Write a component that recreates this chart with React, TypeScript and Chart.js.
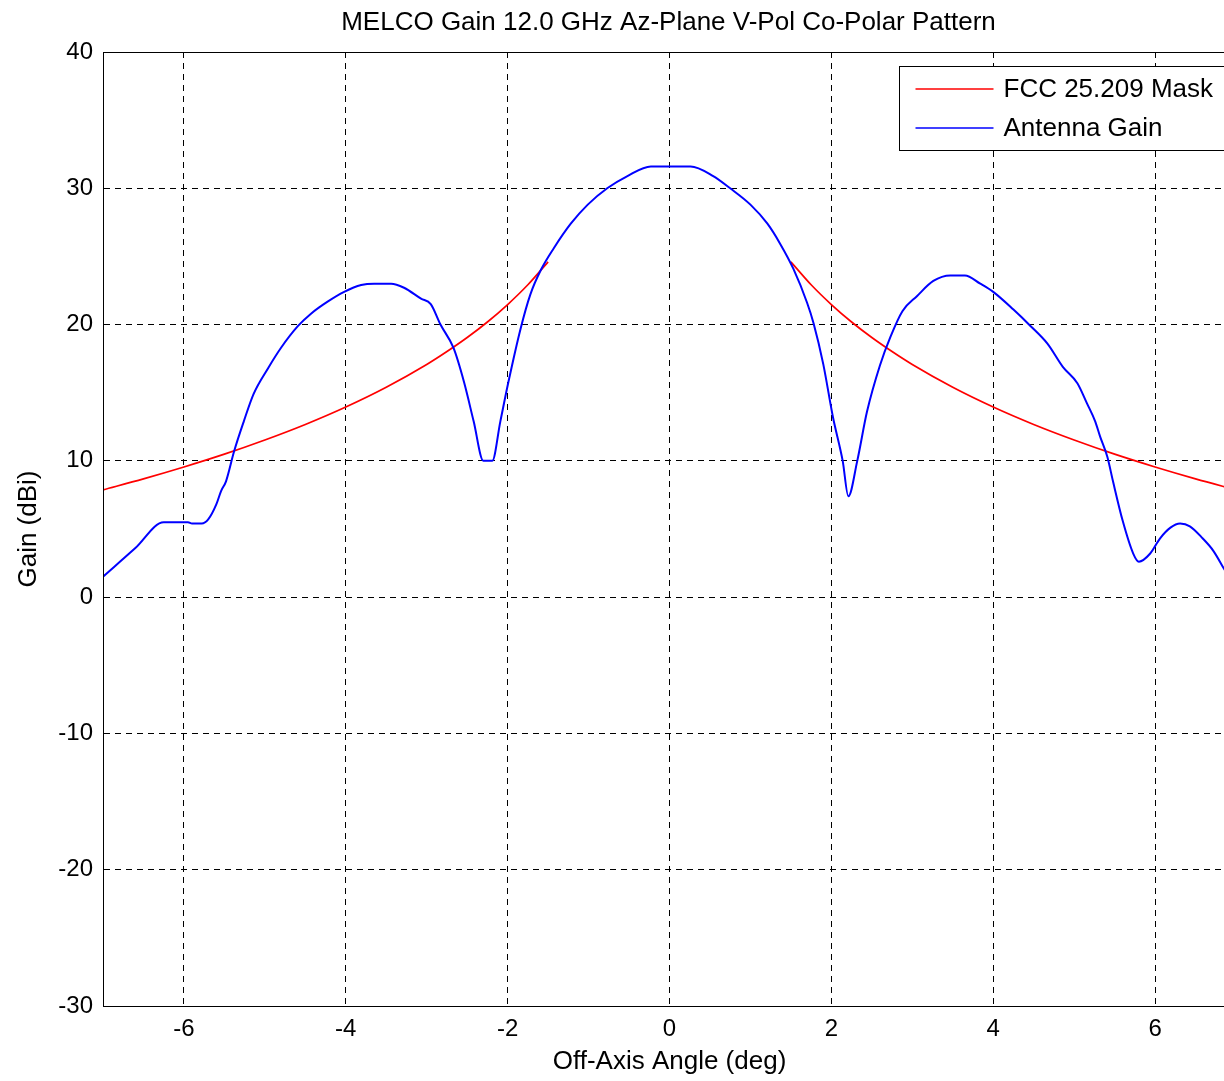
import React, { useEffect, useRef } from "react";
import { Chart, registerables } from "chart.js";

Chart.register(...registerables);

// ---- Data ----
const titleText = "MELCO Gain 12.0 GHz Az-Plane V-Pol Co-Polar Pattern";
const xAxisTitle = "Off-Axis Angle (deg)";
const yAxisTitle = "Gain (dBi)";
const maskLabel = "FCC 25.209 Mask";
const gainLabel = "Antenna Gain";

const xTickValues = [-6, -4, -2, 0, 2, 4, 6];
const xMin = -7;
const xMax = 7;
const yMin = -30;
const yMax = 40;
const yStep = 10;

// FCC mask (left branch, gap, right branch)
const maskAngles = [
  -7.0, -6.5, -6.0, -5.5, -5.0, -4.5, -4.0, -3.5, -3.0, -2.75, -2.5, -2.25, -2.0, -1.75, -1.5,
  0,
  1.5, 1.75, 2.0, 2.25, 2.5, 2.75, 3.0, 3.5, 4.0, 4.5, 5.0, 5.5, 6.0, 6.5, 7.0,
];
const maskGain = [
  7.87, 8.68, 9.55, 10.49, 11.53, 12.67, 13.95, 15.4, 17.07, 18.02, 19.05, 20.19, 21.47, 22.92, 24.6,
  null,
  24.6, 22.92, 21.47, 20.19, 19.05, 18.02, 17.07, 15.4, 13.95, 12.67, 11.53, 10.49, 9.55, 8.68, 7.87,
];

// Measured antenna gain
const gainAngles = [
  -7.0, -6.6, -6.25, -5.95, -5.9, -5.78, -5.7, -5.6, -5.54, -5.48, -5.38, -5.26, -5.14, -4.96, -4.8,
  -4.59, -4.43, -4.22, -4.02, -3.81, -3.65, -3.44, -3.28, -3.07, -2.95, -2.83, -2.67, -2.54, -2.42,
  -2.3, -2.19, -2.09, -1.99, -1.84, -1.72, -1.59, -1.43, -1.22, -1.01, -0.77, -0.52, -0.23, 0.26,
  0.54, 0.75, 1.0, 1.21, 1.37, 1.53, 1.7, 1.78, 1.9, 2.02, 2.14, 2.21, 2.32, 2.44, 2.6, 2.73, 2.88,
  3.06, 3.26, 3.47, 3.65, 3.84, 4.0, 4.25, 4.46, 4.67, 4.86, 5.04, 5.16, 5.26, 5.32, 5.41, 5.48,
  5.6, 5.73, 5.8, 5.94, 6.06, 6.19, 6.31, 6.43, 6.59, 6.72, 6.85, 7.0,
];
const gainValues = [
  1.5, 3.6, 5.5, 5.5, 5.4, 5.4, 5.7, 6.8, 7.8, 8.5, 10.7, 12.9, 14.9, 16.8, 18.3,
  19.9, 20.8, 21.7, 22.4, 22.9, 23.0, 23.0, 22.7, 21.9, 21.5, 20.0, 18.3, 15.8, 12.9,
  10.0, 10.0, 12.9, 15.8, 19.7, 22.2, 24.0, 25.6, 27.4, 28.8, 30.0, 30.9, 31.6, 31.6,
  30.9, 30.0, 28.8, 27.4, 25.9, 24.1, 21.6, 20.1, 17.1, 13.2, 10.0, 7.4, 10.0, 13.6, 17.0, 19.1, 21.0,
  22.1, 23.2, 23.6, 23.6, 23.0, 22.4, 21.1, 19.9, 18.6, 16.9, 15.7, 14.2, 12.9, 11.8, 10.3, 8.5,
  5.6, 3.2, 2.6, 3.2, 4.3, 5.1, 5.4, 5.2, 4.3, 3.4, 2.1, 0.6,
];

const FONT = "'Liberation Sans', Arial, Helvetica, sans-serif";

const titlePlugin = {
  id: "centeredTitle",
  afterDraw(chart: any) {
    const { ctx, chartArea } = chart;
    ctx.save();
    ctx.fillStyle = "#000";
    ctx.font = `26px ${FONT}`;
    ctx.textAlign = "center";
    ctx.textBaseline = "middle";
    ctx.fillText(titleText, (chartArea.left + chartArea.right) / 2 - 1, 23);
    ctx.restore();
  },
};

const framePlugin = {
  id: "frameBox",
  afterDatasetsDraw(chart: any) {
    const { ctx, chartArea } = chart;
    ctx.save();
    ctx.strokeStyle = "#000";
    ctx.lineWidth = 1;
    ctx.strokeRect(
      Math.round(chartArea.left) + 0.5,
      Math.round(chartArea.top) + 0.5,
      Math.round(chartArea.right - chartArea.left),
      Math.round(chartArea.bottom - chartArea.top)
    );
    ctx.restore();
  },
};

const boxLegendPlugin = {
  id: "boxLegend",
  afterDraw(chart: any) {
    const { ctx, chartArea } = chart;
    const left = Math.round(chartArea.right - 337) + 0.5;
    const top = Math.round(chartArea.top + 14) + 0.5;
    const right = Math.round(chartArea.right - 8) + 0.5;
    const bottom = top + 84;
    ctx.save();
    ctx.fillStyle = "#fff";
    ctx.fillRect(left, top, right - left, bottom - top);
    ctx.strokeStyle = "#000";
    ctx.lineWidth = 1;
    ctx.strokeRect(left, top, right - left, bottom - top);
    const rows = chart.data.datasets.map((d: any) => ({ label: d.label, color: d.borderColor }));
    rows.forEach((r: any, i: number) => {
      const y = Math.round(top + 22 + i * 39);
      ctx.strokeStyle = r.color;
      ctx.lineWidth = 1.6;
      ctx.beginPath();
      ctx.moveTo(left + 16, y);
      ctx.lineTo(left + 94, y);
      ctx.stroke();
      ctx.fillStyle = "#000";
      ctx.font = `26px ${FONT}`;
      ctx.textBaseline = "middle";
      ctx.textAlign = "left";
      ctx.fillText(r.label, left + 104, y + 1);
    });
    ctx.restore();
  },
};

export default function App() {
  const canvasRef = useRef<HTMLCanvasElement | null>(null);

  useEffect(() => {
    if (!canvasRef.current) return;
    const maskPoints = maskAngles.map((x, i) => ({ x, y: maskGain[i] }));
    const gainPoints = gainAngles.map((x, i) => ({ x, y: gainValues[i] }));
    const chart = new Chart(canvasRef.current, {
      type: "line",
      data: {
        datasets: [
          {
            label: maskLabel,
            data: maskPoints as any,
            borderColor: "#ff0000",
            borderWidth: 1.7,
            pointRadius: 0,
            cubicInterpolationMode: "monotone",
            spanGaps: false,
            order: 2,
          },
          {
            label: gainLabel,
            data: gainPoints as any,
            borderColor: "#0000ff",
            borderWidth: 2,
            pointRadius: 0,
            cubicInterpolationMode: "monotone",
            order: 1,
          },
        ],
      },
      options: {
        animation: false,
        responsive: false,
        devicePixelRatio: 1,
        layout: { padding: { left: 0, right: 64, top: 52, bottom: 0 } },
        plugins: {
          legend: { display: false },
          tooltip: { enabled: false },
          title: { display: false },
        },
        scales: {
          x: {
            type: "linear",
            min: xMin,
            max: xMax,
            afterBuildTicks: (scale: any) => {
              scale.ticks = xTickValues.map((v) => ({ value: v }));
            },
            afterFit: (scale: any) => {
              scale.height = 75;
            },
            grid: { color: "#000", lineWidth: 1, drawTicks: false },
            border: { display: true, color: "#000", width: 1, dash: [6, 5] },
            ticks: {
              color: "#000",
              font: { family: FONT, size: 24 },
              padding: 9,
              maxRotation: 0,
              autoSkip: false,
            },
            title: {
              display: true,
              text: xAxisTitle,
              color: "#000",
              font: { family: FONT, size: 26, lineHeight: 1.2 },
              padding: { top: 0, bottom: 4 },
            },
          },
          y: {
            type: "linear",
            min: yMin,
            max: yMax,
            afterFit: (scale: any) => {
              scale.width = 103;
            },
            grid: { color: "#000", lineWidth: 1, drawTicks: false },
            border: { display: true, color: "#000", width: 1, dash: [6, 5] },
            ticks: {
              stepSize: yStep,
              color: "#000",
              font: { family: FONT, size: 24 },
              padding: 10,
            },
            title: {
              display: true,
              text: yAxisTitle,
              color: "#000",
              font: { family: FONT, size: 26, lineHeight: 1.2 },
              padding: { top: 13, bottom: 0 },
            },
          },
        },
      },
      plugins: [framePlugin, boxLegendPlugin, titlePlugin],
    });
    return () => chart.destroy();
  }, []);

  return (
    <div
      style={{
        position: "fixed",
        left: 0,
        top: 0,
        width: 1224,
        height: 1081,
        overflow: "hidden",
        background: "#fff",
      }}
    >
      <canvas ref={canvasRef} width={1300} height={1081} style={{ display: "block" }} />
    </div>
  );
}
